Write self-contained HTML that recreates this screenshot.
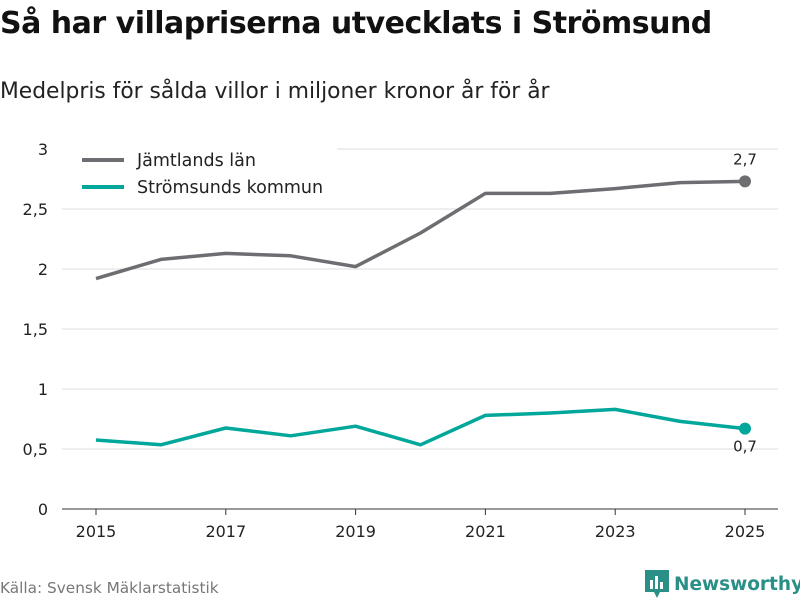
<!DOCTYPE html>
<html><head><meta charset="utf-8"><style>
body{margin:0;width:800px;height:600px;background:#fff;font-family:"DejaVu Sans","Liberation Sans",sans-serif;overflow:hidden;position:relative;color:#111}
#title{position:absolute;left:0;top:6px;font-size:30px;font-weight:bold;letter-spacing:-0.5px}
#sub{position:absolute;left:0;top:79px;font-size:21.8px;color:#222}
#src{position:absolute;left:0;top:579px;font-size:15.3px;color:#777}
#logo{position:absolute;left:645px;top:570px;font-size:18.5px;font-weight:bold;color:#2a8f86;display:flex;align-items:center;gap:5px}
svg{position:absolute;left:0;top:0}
svg text{font-family:"DejaVu Sans","Liberation Sans",sans-serif}
</style></head><body>
<div id="title">Så har villapriserna utvecklats i Strömsund</div>
<div id="sub">Medelpris för sålda villor i miljoner kronor år för år</div>
<svg id="chart" width="800" height="600"></svg>
<div id="src">Källa: Svensk Mäklarstatistik</div>
<div id="logo"><svg width="24" height="28" style="position:static" viewBox="0 0 24 28"><path d="M0 0H24V22H15L12 28L9 22H0Z" fill="#2a8f86"/><rect x="5" y="10" width="3" height="9" fill="#fff"/><rect x="10" y="6" width="3" height="13" fill="#fff"/><rect x="15" y="12" width="3" height="7" fill="#fff"/></svg><span>Newsworthy</span></div>
<script>
const years=[2015,2016,2017,2018,2019,2020,2021,2022,2023,2024,2025];
const jamtland=[1.92,2.08,2.13,2.11,2.02,2.30,2.63,2.63,2.67,2.72,2.73];
const stromsund=[0.575,0.535,0.675,0.61,0.69,0.535,0.78,0.80,0.83,0.73,0.67];
const yTicks=[0,0.5,1,1.5,2,2.5,3];
const yTickLabels=["0","0,5","1","1,5","2","2,5","3"];
const xTicks=[2015,2017,2019,2021,2023,2025];
const NS="http://www.w3.org/2000/svg";
const svg=document.getElementById('chart');
const x=v=>96+(v-2015)*64.9;
const y=v=>509-v*120;
function mk(t,a){const e=document.createElementNS(NS,t);for(const k in a)e.setAttribute(k,a[k]);svg.appendChild(e);return e;}
yTicks.forEach((t,i)=>{
 const g=mk('line',{x1:62,x2:778,y1:y(t),y2:y(t),stroke:t===0?'#333':'#ddd','stroke-width':1});
 
 
 const l=mk('text',{x:48,y:y(t)+6,'text-anchor':'end','font-size':16,fill:'#222'});l.textContent=yTickLabels[i];
 
 
});
xTicks.forEach(t=>{
 const tk=mk('line',{x1:x(t),x2:x(t),y1:509,y2:515,stroke:'#333'});
 
 
 const l=mk('text',{x:x(t),y:537,'text-anchor':'middle','font-size':16,fill:'#222'});l.textContent=t;
 
 
});
const bg=mk('rect',{x:62,y:140,width:275,height:62,fill:'#fff'});


function series(vals,color,name,labelDy){
 const p=mk('polyline',{points:vals.map((v,i)=>x(years[i])+','+y(v)).join(' '),fill:'none',stroke:color,'stroke-width':3.5,'stroke-linejoin':'round'});
 
 
 const n=vals.length-1;
 const c=mk('circle',{cx:x(years[n]),cy:y(vals[n]),r:6,fill:color});
 
 
 const t=mk('text',{x:x(years[n]),y:y(vals[n])+labelDy,'text-anchor':'middle','font-size':15,fill:'#222'});
 t.textContent=vals[n].toFixed(1).replace('.',',');
 
 
}
series(jamtland,'#6e6d72','jamtland',-17);
series(stromsund,'#00a79a','stromsund',23);
[['Jämtlands län','#6e6d72',160],['Strömsunds kommun','#00a79a',187]].forEach(([n,c,yy])=>{
 const l=mk('line',{x1:82,x2:124,y1:yy,y2:yy,stroke:c,'stroke-width':4});
 
 
 const t=mk('text',{x:137,y:yy+6,'font-size':17.5,fill:'#222'});t.textContent=n;
 
 
});
</script>
</body></html>
